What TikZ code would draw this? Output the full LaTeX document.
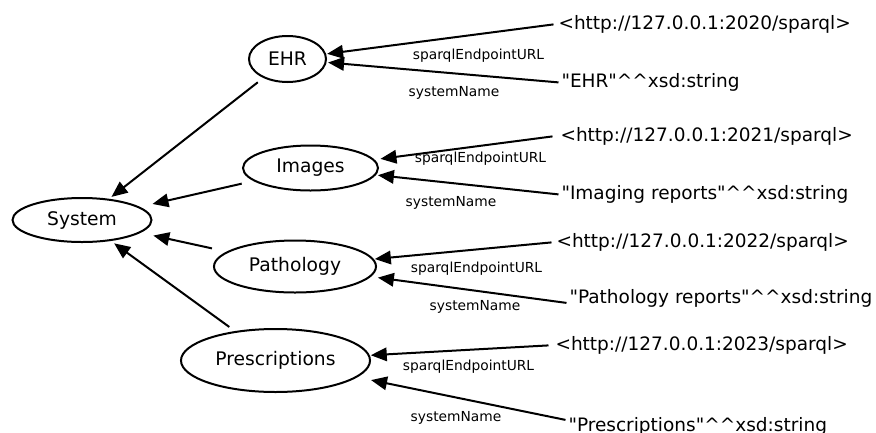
\documentclass[tikz,border=0pt]{standalone}
\usepackage{fontspec}
\setmainfont{DejaVu Sans}[Ligatures=TeXOff]
\usetikzlibrary{shapes.geometric,arrows.meta}

\begin{document}
\begin{tikzpicture}[x=1pt,y=-1pt,line width=2pt,
  entity/.style={ellipse,draw,inner sep=0pt,font=\fontsize{18.7}{22}\selectfont},
  literal/.style={anchor=base west,inner xsep=3pt,outer sep=0pt,font=\fontsize{18.5}{22}\selectfont},
  prop/.style={anchor=base,inner sep=1pt,font=\fontsize{13.8}{16}\selectfont},
  link/.style={-{Triangle[length=16pt,width=13.5pt]}}]
\useasboundingbox (0,0) rectangle (876,432);

% resources
\node[entity,minimum width=77pt,minimum height=46pt]  (ehr)           at (287.5,59)   {EHR};
\node[entity,minimum width=135pt,minimum height=45pt] (images)        at (310.5,168)  {Images};
\node[entity,minimum width=139pt,minimum height=44pt] (system)        at (82,220)     {System};
\node[entity,minimum width=162pt,minimum height=52pt] (pathology)     at (295,266.5)  {Pathology};
\node[entity,minimum width=189pt,minimum height=63pt] (prescriptions) at (275.5,360.5){Prescriptions};

% literals
\newcommand{\dtype}{\textasciicircum\textasciicircum xsd:string}
\node[literal] (ehrurl)    at (555.5,29.5)  {<http://127.0.0.1:2020/sparql>};
\node[literal] (ehrname)   at (558.5,87.5)  {"EHR"\dtype};
\node[literal] (imgurl)    at (557.5,141.5) {<http://127.0.0.1:2021/sparql>};
\node[literal] (imgname)   at (558.5,199.5) {"Imaging reports"\dtype};
\node[literal] (pathurl)   at (553.5,247.5) {<http://127.0.0.1:2022/sparql>};
\node[literal] (pathname)  at (566.5,303)   {"Pathology reports"\dtype};
\node[literal] (prescurl)  at (552.5,350.5) {<http://127.0.0.1:2023/sparql>};
\node[literal] (prescname) at (565.5,431.5) {"Prescriptions"\dtype};

% subclass links
\draw[link,shorten <=7pt,shorten >=3pt]   (ehr) -- (system);
\draw[link,shorten <=12pt,shorten >=13pt] (images) -- (system);
\draw[link,shorten <=15pt,shorten >=13pt] (pathology) -- (system);
\draw[link,shorten <=7pt,shorten >=4pt]   (prescriptions) -- (system);

% property links
\draw[link,shorten >=1pt]   ([xshift=-2pt]ehrurl.west) -- (ehr);
\draw[link,shorten >=1.5pt] (ehrname.west) -- (ehr);
\draw[link,shorten >=6pt]   ([xshift=-5pt]imgurl.west) -- (images);
\draw[link,shorten >=2pt]   (imgname.west) -- (images);
\draw[link,shorten >=1pt]   ([xshift=-2pt]pathurl.west) -- (pathology);
\draw[link,shorten >=7pt]   ([yshift=-5pt]pathname.west) -- (pathology);
\draw[link,shorten >=1pt]   ([xshift=-4pt]prescurl.west) -- (prescriptions);
\draw[link,shorten >=14pt]  ([yshift=6.5pt]prescname.west) -- (prescriptions);

% property labels
\node[prop] (p1u) at (478.5,59)  {sparqlEndpointURL};
\node[prop] (p1n) at (454,96)    {systemName};
\node[prop] (p2u) at (480.5,162) {sparqlEndpointURL};
\node[prop] (p2n) at (451,206)   {systemName};
\node[prop] (p3u) at (476.5,272) {sparqlEndpointURL};
\node[prop] (p3n) at (475,310)   {systemName};
\node[prop] (p4u) at (468.5,370) {sparqlEndpointURL};
\node[prop] (p4n) at (456,421)   {systemName};
\end{tikzpicture}
\end{document}
